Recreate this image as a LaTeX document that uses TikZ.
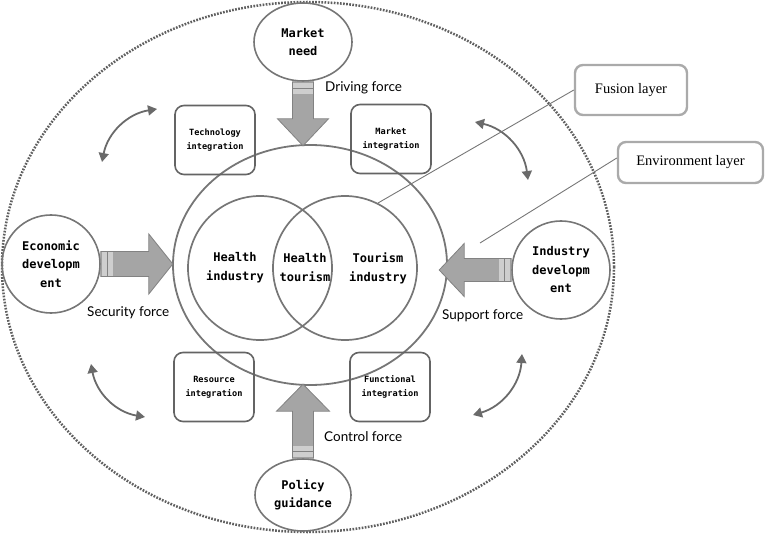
\documentclass[tikz,border=0pt]{standalone}
\usepackage{fontspec}
\setmainfont{Liberation Serif}
\newfontfamily\monof{DejaVu Sans Mono}
\newfontfamily\labf{Lato}
\usetikzlibrary{shapes.geometric,arrows.meta,calc}
\definecolor{lineg}{RGB}{118,118,118}
\definecolor{dotg}{RGB}{95,95,95}
\definecolor{arrowfill}{RGB}{165,165,165}
\definecolor{arrowline}{RGB}{130,130,130}
\definecolor{boxg}{RGB}{170,170,170}
\begin{document}
\begin{tikzpicture}[x=1pt,y=-1pt,
  actor/.style={draw=lineg, line width=1.6pt, ellipse, inner sep=0pt, font=\monof\bfseries\fontsize{12}{18.5}\selectfont, align=center},
  ring/.style={draw=lineg, line width=1.7pt, circle, inner sep=0pt},
  inner/.style={font=\monof\bfseries\fontsize{12}{19}\selectfont, align=center},
  integ/.style={draw=lineg!85!black, line width=1.6pt, rounded corners=9pt, minimum width=80pt, minimum height=69pt, font=\monof\bfseries\fontsize{8.6}{14}\selectfont, align=center},
  layer/.style={draw=boxg, line width=2.4pt, rounded corners=8pt, font=\fontsize{14.5}{16}\selectfont, inner sep=0pt},
  force/.style={font=\labf\fontsize{13.5}{15}\selectfont, anchor=west, inner sep=0pt},
  leader/.style={draw=lineg, line width=0.9pt},
  swing/.style={draw=lineg!90!black, line width=1.8pt, {Triangle[length=9pt,width=10pt]}-{Triangle[length=9pt,width=10pt]}, bend left=35},
  blockarrow/.style={fill=arrowfill, draw=arrowline, line width=0.8pt},
  pics/barrow/.style n args={4}{code={
    \path[blockarrow] (0,-#3) -- ({#1-#2},-#3) -- ({#1-#2},-#4) -- (#1,0) -- ({#1-#2},#4) -- ({#1-#2},#3) -- (0,#3) -- cycle;
    \fill[arrowfill!55!white] (0.8,{-#3+0.8}) rectangle (12,{#3-0.8});
    \draw[arrowline, line width=1.2pt] (7,{-#3+0.8}) -- (7,{#3-0.8});
  }}
]
\useasboundingbox (0,0) rectangle (767,534);

% environment layer (dotted)
\draw[dotg, line width=2.5pt, dash pattern=on 1.7pt off 1.4pt] (308,267) ellipse [x radius=306pt, y radius=265pt];

% fusion layer
\node[draw=lineg, line width=1.8pt, ellipse, inner sep=0pt, minimum width=274pt, minimum height=240pt] (fusion) at (310,265) {};
\node[ring, minimum size=144pt] (hc) at (260,268) {};
\node[ring, minimum size=144pt] (tc) at (345,268) {};
\node[inner] (hi) at (235,268) {Health\\industry};
\node[inner] (ht) at (305,268) {Health\\tourism};
\node[inner] (ti) at (378,268) {Tourism\\industry};

% forces
\node[actor, minimum width=98pt, minimum height=78pt] (mn) at (303,42) {Market\\need};
\node[actor, minimum width=96pt, minimum height=72pt] (pg) at (303,495) {Policy\\guidance};
\node[actor, circle, minimum size=98pt] (ed) at (51,264) {Economic\\developm\\ent};
\node[actor, circle, minimum size=98pt] (id) at (561,270) {Industry\\developm\\ent};

\pic[rotate=-90] at (mn.south) {barrow={64}{27}{10.5}{25.5}};
\pic[rotate=90] at (pg.north) {barrow={74}{27}{10.5}{26.5}};
\pic at (ed.east) {barrow={72}{24}{12.5}{30}};
\pic[rotate=180] at (id.west) {barrow={72}{25}{11.5}{26.5}};

\node[force] (df) at (325,88) {Driving force};
\node[force] (sf) at (87,313) {Security force};
\node[force] (spf) at (442,316) {Support force};
\node[force] (cf) at (324,437) {Control force};

% integrations
\node[integ] (tech) at (215,140) {Technology\\integration};
\node[integ] (mkt) at (391,139) {Market\\integration};
\node[integ] (res) at (214,387) {Resource\\integration};
\node[integ] (fun) at (390,387) {Functional\\integration};

% circulation arrows
\coordinate (a1) at (102,162); \coordinate (a2) at (157,109);
\coordinate (b1) at (475,122); \coordinate (b2) at (528,180);
\coordinate (c1) at (522,354); \coordinate (c2) at (473,415);
\coordinate (d1) at (145,417); \coordinate (d2) at (91,364);
\draw[swing] (a1) to (a2);
\draw[swing] (b1) to (b2);
\draw[swing] (c1) to (c2);
\draw[swing] (d1) to (d2);

% layer labels
\node[layer, minimum width=112pt, minimum height=50pt] (fus) at (631,90) {Fusion layer};
\node[layer, minimum width=145pt, minimum height=41pt] (env) at (690.5,162.5) {Environment layer};
\coordinate (fl) at (378,203);
\coordinate (el) at (480,243);
\draw[leader] (fl) -- (fus.west);
\draw[leader] (el) -- ([yshift=4.5pt]env.west);
\end{tikzpicture}
\end{document}
